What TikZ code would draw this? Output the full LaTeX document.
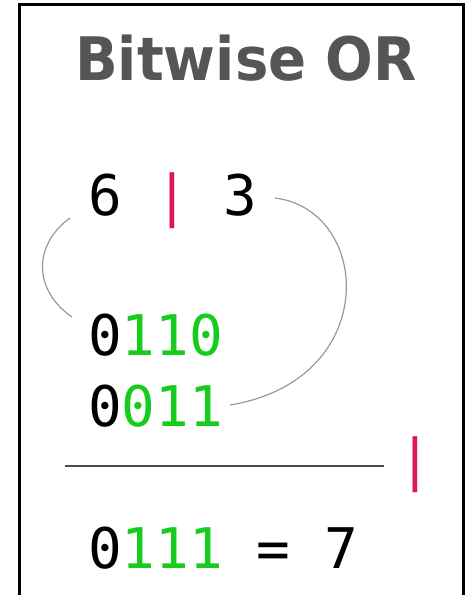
\documentclass[tikz,border=0pt]{standalone}
\usepackage{fontspec}
\newfontfamily\dejamono{DejaVu Sans Mono}
\newfontfamily\dejasans{DejaVu Sans}
\usetikzlibrary{positioning}
\definecolor{orred}{RGB}{218,22,92}
\definecolor{bitgreen}{RGB}{22,204,30}
\definecolor{titlegray}{RGB}{85,85,85}
\tikzset{
	bitrow/.style={anchor=base west, inner sep=0pt, font=\fontsize{56}{56}\selectfont\dejamono}
}
\tikzset{
	linkarc/.style={draw=gray!80, line width=1.2pt}
}
\newcommand{\gbit}[1]{\textcolor{bitgreen}{#1}}
\newcommand{\orbar}{\textcolor{orred}{|}}

\begin{document}
\begin{tikzpicture}[x=1pt, y=-1pt]
      \useasboundingbox (0,0) rectangle (467,595);
      \draw[line width=3pt] (19.5,600) -- (19.5,4.5) -- (463.5,4.5) -- (463.5,600);
      \node[anchor=base, inner sep=0pt, text=titlegray, font=\fontsize{60}{60}\selectfont\dejasans\bfseries] (title) at (246,80) {\scalebox{0.935}[1]{Bitwise OR}};
      \node[bitrow] (ops) at (88,215) {6 \orbar{} 3};
      \node[bitrow] (bin6) at (88,355) {0\gbit{110}};
      \node[bitrow] (bin3) at (88,426) {0\gbit{011}};
      \node[bitrow] (orsign) at (398,479) {\orbar};
      \node[bitrow] (result) at (88,568) {0\gbit{111} = 7};
      % arc ends
      \coordinate (six end) at (70,218);
      \coordinate (six bin) at (72,317);
      \coordinate (three end) at (275,198);
      \coordinate (three bin) at (230,405);
      \coordinate (rule l) at (65,466);
      \coordinate (rule r) at (384,466);
      \draw[linkarc] (six end) .. controls (33,245) and (33,290) .. (six bin);
      \draw[linkarc] (three end) .. controls (372,210) and (382,380) .. (three bin);
      \draw[draw=black!70, line width=1.2pt] (rule l) -- (rule r);
    \end{tikzpicture}
\end{document}
